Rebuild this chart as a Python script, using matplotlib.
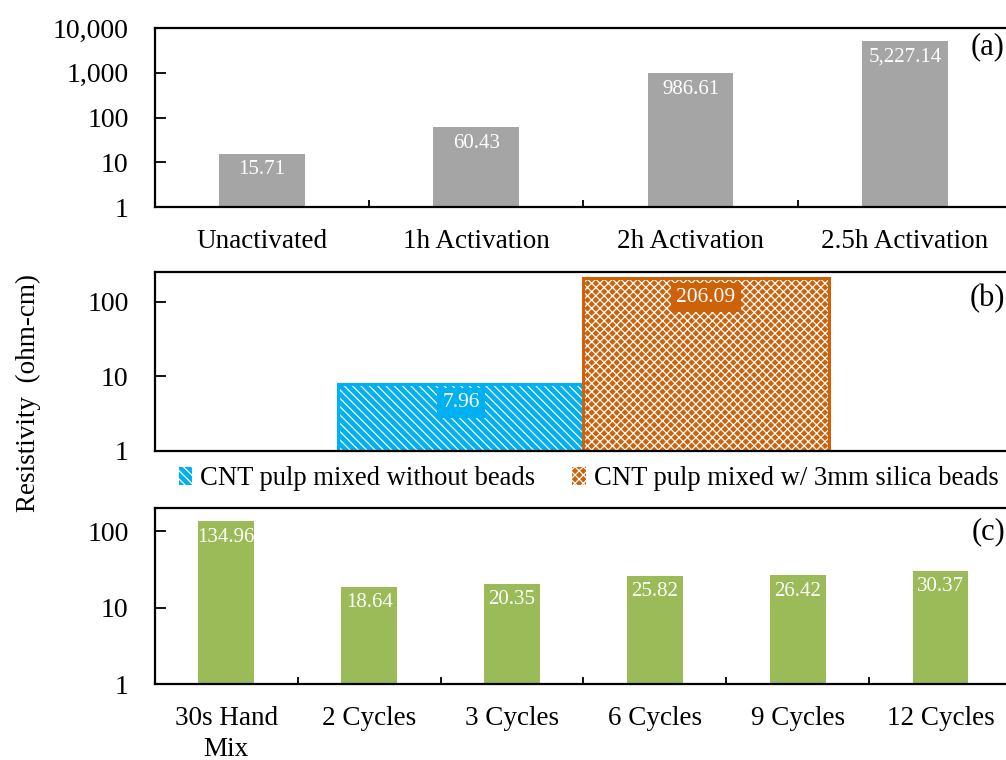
import matplotlib
matplotlib.use("Agg")
import matplotlib.pyplot as plt
from matplotlib.patches import Patch
from matplotlib.ticker import FixedLocator, FixedFormatter, NullLocator
import numpy as np

plt.rcParams['font.family'] = ['Liberation Serif', 'DejaVu Serif']
plt.rcParams['hatch.linewidth'] = 0.9

# (a) activation time
activation_labels = ["Unactivated", "1h Activation", "2h Activation", "2.5h Activation"]
activation_values = [15.71, 60.43, 986.61, 5227.14]

# (b) mixing with / without beads
bead_labels = ["CNT pulp mixed without beads", "CNT pulp mixed w/ 3mm silica beads"]
bead_values = [7.96, 206.09]

# (c) number of mixing cycles
cycle_labels = ["30s Hand\nMix", "2 Cycles", "3 Cycles", "6 Cycles", "9 Cycles", "12 Cycles"]
cycle_values = [134.96, 18.64, 20.35, 25.82, 26.42, 30.37]

ticks_a = [1, 10, 100, 1000, 10000]
ticks_a_text = ["1", "10", "100", "1,000", "10,000"]
ticks_bc = [1, 10, 100]
ticks_bc_text = ["1", "10", "100"]

GRAY = "#A5A5A5"
GREEN = "#9BBB59"
BLUE = "#00B0F0"
ORANGE = "#CE620B"

fig = plt.figure(figsize=(10.06, 7.6), dpi=100)
ax_a = fig.add_axes([0.154, 0.7276, 0.852, 0.2355])
ax_b = fig.add_axes([0.154, 0.4066, 0.852, 0.2355])
ax_c = fig.add_axes([0.154, 0.1000, 0.852, 0.2316])


def style_axis(ax, ymax, ticks, tick_text):
    ax.set_yscale('log')
    ax.set_ylim(1, ymax)
    ax.yaxis.set_major_locator(FixedLocator(ticks))
    ax.yaxis.set_major_formatter(FixedFormatter(tick_text))
    ax.yaxis.set_minor_locator(NullLocator())
    ax.spines['right'].set_visible(False)
    for side in ('top', 'left', 'bottom'):
        ax.spines[side].set_linewidth(1.6)
    ax.tick_params(axis='y', which='major', direction='in', length=8,
                   width=1.3, labelsize=20, pad=19)


def category_axis(ax, labels):
    n = len(labels)
    ax.set_xlim(-0.5, n - 0.5)
    ax.xaxis.set_major_locator(FixedLocator(np.arange(n - 1) + 0.5))
    ax.xaxis.set_major_formatter(FixedFormatter([''] * (n - 1)))
    ax.xaxis.set_minor_locator(FixedLocator(np.arange(n)))
    ax.xaxis.set_minor_formatter(FixedFormatter(labels))
    ax.tick_params(axis='x', which='major', direction='in', length=5, width=1.3)
    ax.tick_params(axis='x', which='minor', length=0, labelsize=19.5, pad=16)
    for t in ax.xaxis.get_minorticklabels():
        t.set_linespacing(1.28)


def value_labels(ax, xs, values, offset, size=15, boxes=None):
    for i, (x, v) in enumerate(zip(xs, values)):
        kw = {}
        if boxes is not None:
            kw['bbox'] = dict(boxstyle='square,pad=0.25', fc=boxes[i], ec='none')
        ax.annotate(f"{v:,.2f}", xy=(x, v), xytext=(0, -offset),
                    textcoords='offset pixels', ha='center', va='center',
                    color='white', fontsize=size, **kw)


# (a)
xa = np.arange(len(activation_values))
ax_a.bar(xa, activation_values, width=0.4, color=GRAY)
style_axis(ax_a, 10000, ticks_a, ticks_a_text)
category_axis(ax_a, activation_labels)
value_labels(ax_a, xa, activation_values, 16)

# (b)
bw = 0.286
xb = [-bw / 2, bw / 2]
hatches = ['\\\\\\\\', 'xxxx']
colors_b = [BLUE, ORANGE]
for x, v, c, h in zip(xb, bead_values, colors_b, hatches):
    ax_b.bar(x, v, width=bw, color=c, edgecolor='white', linewidth=0, hatch=h)
    ax_b.bar(x, v, width=bw, fill=False, edgecolor=c, linewidth=2.2)
style_axis(ax_b, 251, ticks_bc, ticks_bc_text)
ax_b.set_xlim(-0.5, 0.5)
ax_b.set_xticks([])
value_labels(ax_b, xb, bead_values, 19, size=15.5, boxes=colors_b)

handles = [Patch(facecolor=c, edgecolor='white', hatch=h, linewidth=0)
           for c, h in zip(colors_b, hatches)]
fig.legend(handles, bead_labels, loc='center', bbox_to_anchor=(0.585, 0.370),
           ncol=2, frameon=False, fontsize=19.2, handlelength=0.5,
           handleheight=0.7, handletextpad=0.3, columnspacing=1.4)

# (c)
xc = np.arange(len(cycle_values))
ax_c.bar(xc, cycle_values, width=0.39, color=GREEN)
style_axis(ax_c, 200, ticks_bc, ticks_bc_text)
category_axis(ax_c, cycle_labels)
value_labels(ax_c, xc, cycle_values, 16)

# panel tags and shared axis title
for y, tag in ((0.938, "(a)"), (0.607, "(b)"), (0.300, "(c)")):
    fig.text(0.999, y, tag, ha='right', va='center', fontsize=22)

fig.text(0.028, 0.483, "Resistivity  (ohm-cm)", rotation=90,
         ha='center', va='center', fontsize=19.5)

fig.savefig("out.png", dpi=100)
